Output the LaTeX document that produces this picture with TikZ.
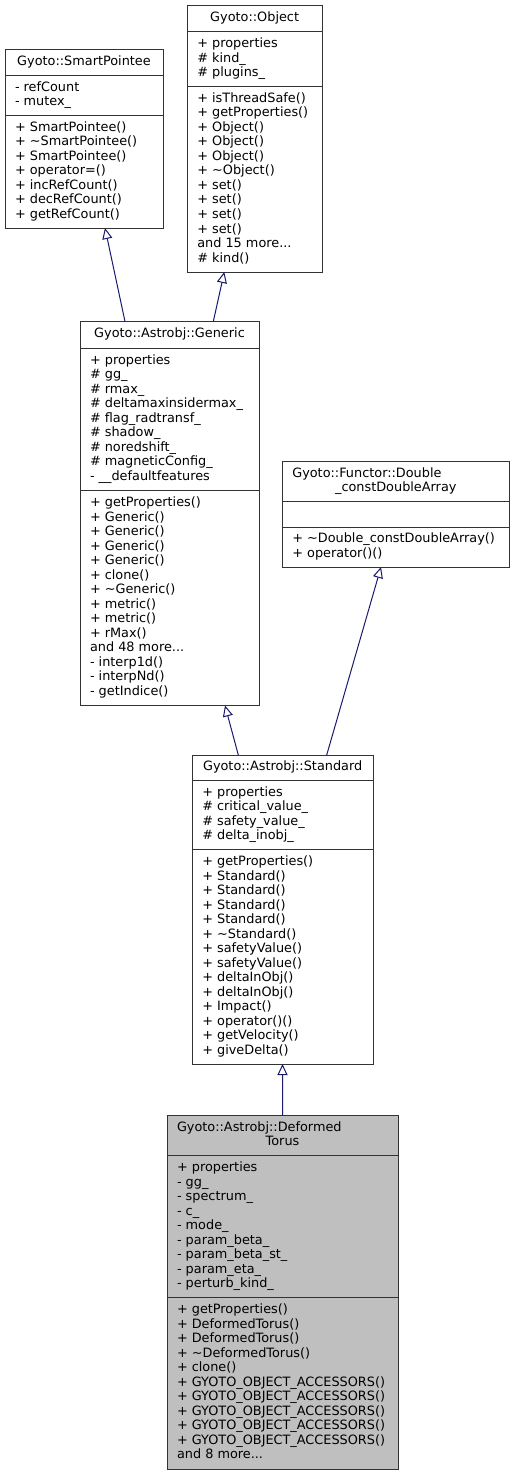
\documentclass[tikz,border=0pt]{standalone}
\usepackage{fontspec}
\setmainfont{DejaVu Sans}
\usetikzlibrary{arrows.meta,calc}
\definecolor{bordercol}{HTML}{333333}
\definecolor{edgecol}{HTML}{191970}
\definecolor{curfill}{HTML}{BFBFBF}
\newcommand{\ta}{\textasciitilde}
\begin{document}
\begin{tikzpicture}[x=1bp,y=-1bp,
  every node/.style={font=\fontsize{12.85bp}{14.5bp}\selectfont},
  cls/.style={draw=bordercol, line width=1bp, fill=white, anchor=north west, inner sep=0pt, outer sep=0pt},
  cur/.style={cls, fill=curfill},
  sepline/.style={draw=bordercol, line width=1bp},
  txt/.style={anchor=west, inner sep=0pt, outer sep=0pt},
  ttl/.style={anchor=center, inner sep=0pt, outer sep=0pt},
  inh/.style={draw=edgecol, line width=1bp, -{Triangle[open, length=11bp, width=10bp, fill=white]}}
]
\useasboundingbox (0,0) rectangle (515,1476);

% ---------- Gyoto::SmartPointee ----------
\node[cls, minimum width=158bp, minimum height=178bp] (sp) at (5,50) {};
\draw[sepline] (5,75.5) -- (163,75.5);
\draw[sepline] (5,115.5) -- (163,115.5);
\node[ttl] (sp-t) at (84,62.75) {\begin{tabular}{@{}c@{}}Gyoto::SmartPointee\end{tabular}};
\node[txt] (sp-a) at (15,95.5) {\begin{tabular}{@{}l@{}}- refCount\\- mutex\_\end{tabular}};
\node[txt] (sp-m) at (15,171.75) {\begin{tabular}{@{}l@{}}+ SmartPointee()\\+ \ta SmartPointee()\\+ SmartPointee()\\+ operator=()\\+ incRefCount()\\+ decRefCount()\\+ getRefCount()\end{tabular}};

% ---------- Gyoto::Object ----------
\node[cls, minimum width=134.7bp, minimum height=266bp] (obj) at (187.3,6) {};
\draw[sepline] (187.3,31.8) -- (322,31.8);
\draw[sepline] (187.3,86.7) -- (322,86.7);
\node[ttl] (obj-t) at (254.65,18.9) {\begin{tabular}{@{}c@{}}Gyoto::Object\end{tabular}};
\node[txt] (obj-a) at (197.3,59.25) {\begin{tabular}{@{}l@{}}+ properties\\\# kind\_\\\# plugins\_\end{tabular}};
\node[txt] (obj-m) at (197.3,179.35) {\begin{tabular}{@{}l@{}}+ isThreadSafe()\\+ getProperties()\\+ Object()\\+ Object()\\+ Object()\\+ \ta Object()\\+ set()\\+ set()\\+ set()\\+ set()\\and 15 more...\\\# kind()\end{tabular}};

% ---------- Gyoto::Astrobj::Generic ----------
\node[cls, minimum width=179bp, minimum height=384bp] (gen) at (80,321.5) {};
\draw[sepline] (80,348) -- (259,348);
\draw[sepline] (80,490.5) -- (259,490.5);
\node[ttl] (gen-t) at (169.5,334.75) {\begin{tabular}{@{}c@{}}Gyoto::Astrobj::Generic\end{tabular}};
\node[txt] (gen-a) at (90,419.25) {\begin{tabular}{@{}l@{}}+ properties\\\# gg\_\\\# rmax\_\\\# deltamaxinsidermax\_\\\# flag\_radtransf\_\\\# shadow\_\\\# noredshift\_\\\# magneticConfig\_\\- \_\_defaultfeatures\end{tabular}};
\node[txt] (gen-m) at (90,598) {\begin{tabular}{@{}l@{}}+ getProperties()\\+ Generic()\\+ Generic()\\+ Generic()\\+ Generic()\\+ clone()\\+ \ta Generic()\\+ metric()\\+ metric()\\+ rMax()\\and 48 more...\\- interp1d()\\- interpNd()\\- getIndice()\end{tabular}};

% ---------- Gyoto::Functor::Double_constDoubleArray ----------
\node[cls, minimum width=227bp, minimum height=105.5bp] (fun) at (282.3,461.5) {};
\draw[sepline] (282.3,501.5) -- (509.3,501.5);
\draw[sepline] (282.3,527) -- (509.3,527);
\node[txt] (fun-t1) at (292.3,474.25) {\begin{tabular}{@{}l@{}}Gyoto::Functor::Double\end{tabular}};
\node[ttl] (fun-t2) at (395.8,488.75) {\begin{tabular}{@{}c@{}}\_constDoubleArray\end{tabular}};
\node[txt] (fun-m) at (292.3,547) {\begin{tabular}{@{}l@{}}+ \ta Double\_constDoubleArray()\\+ operator()()\end{tabular}};

% ---------- Gyoto::Astrobj::Standard ----------
\node[cls, minimum width=180.7bp, minimum height=309bp] (std) at (192.3,755) {};
\draw[sepline] (192.3,780.7) -- (373,780.7);
\draw[sepline] (192.3,849.8) -- (373,849.8);
\node[ttl] (std-t) at (282.65,767.85) {\begin{tabular}{@{}c@{}}Gyoto::Astrobj::Standard\end{tabular}};
\node[txt] (std-a) at (202.3,815.25) {\begin{tabular}{@{}l@{}}+ properties\\\# critical\_value\_\\\# safety\_value\_\\\# delta\_inobj\_\end{tabular}};
\node[txt] (std-m) at (202.3,956.9) {\begin{tabular}{@{}l@{}}+ getProperties()\\+ Standard()\\+ Standard()\\+ Standard()\\+ Standard()\\+ \ta Standard()\\+ safetyValue()\\+ safetyValue()\\+ deltaInObj()\\+ deltaInObj()\\+ Impact()\\+ operator()()\\+ getVelocity()\\+ giveDelta()\end{tabular}};

% ---------- Gyoto::Astrobj::DeformedTorus ----------
\node[cur, minimum width=231bp, minimum height=354bp] (dt) at (167,1115) {};
\draw[sepline] (167,1155.7) -- (398,1155.7);
\draw[sepline] (167,1297.8) -- (398,1297.8);
\node[txt] (dt-t1) at (177,1128.1) {\begin{tabular}{@{}l@{}}Gyoto::Astrobj::Deformed\end{tabular}};
\node[ttl] (dt-t2) at (282.5,1142.6) {\begin{tabular}{@{}c@{}}Torus\end{tabular}};
\node[txt] (dt-a) at (177,1226.75) {\begin{tabular}{@{}l@{}}+ properties\\- gg\_\\- spectrum\_\\- c\_\\- mode\_\\- param\_beta\_\\- param\_beta\_st\_\\- param\_eta\_\\- perturb\_kind\_\end{tabular}};
\node[txt] (dt-m) at (177,1383.4) {\begin{tabular}{@{}l@{}}+ getProperties()\\+ DeformedTorus()\\+ DeformedTorus()\\+ \ta DeformedTorus()\\+ clone()\\+ GYOTO\_OBJECT\_ACCESSORS()\\+ GYOTO\_OBJECT\_ACCESSORS()\\+ GYOTO\_OBJECT\_ACCESSORS()\\+ GYOTO\_OBJECT\_ACCESSORS()\\+ GYOTO\_OBJECT\_ACCESSORS()\\and 8 more...\end{tabular}};

% ---------- inheritance connectors ----------
\draw[inh] ($(gen.north west)+(45,0)$) -- ($(sp.south west)+(100,0)$);
\draw[inh] ($(gen.north west)+(133.3,0)$) -- ($(obj.south west)+(37,0)$);
\draw[inh] ($(std.north west)+(46,0)$) -- ($(gen.south west)+(145,0)$);
\draw[inh] ($(std.north west)+(134.4,0)$) -- ($(fun.south west)+(98.7,0)$);
\draw[inh] ($(dt.north west)+(115.5,0)$) -- ($(std.south west)+(90.2,0)$);
\end{tikzpicture}
\end{document}
